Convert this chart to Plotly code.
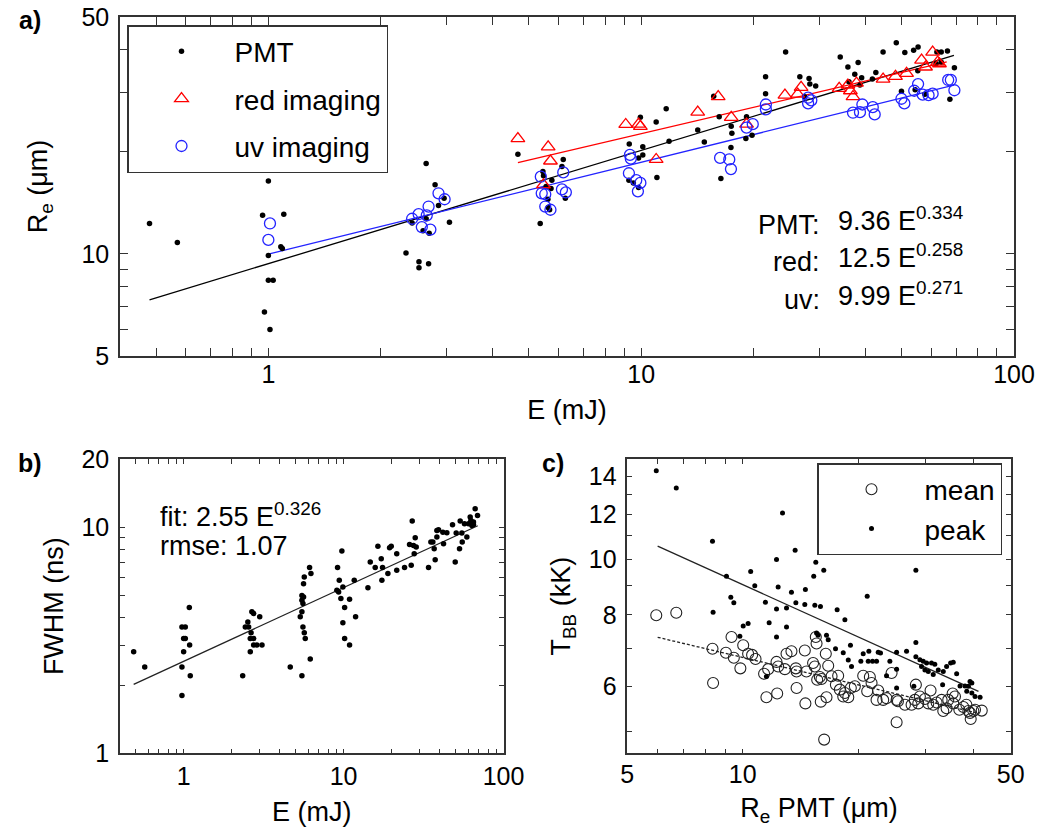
import numpy as np
import plotly.graph_objects as go

FONT = "Liberation Sans, Arial, Helvetica, sans-serif"
W, H = 1042, 836

# ---------------- panel a : R_e vs E ----------------
pmt_E = [0.48, 0.57, 1.00, 0.965, 1.10, 1.08, 1.09, 1.00, 1.00, 1.03, 0.976, 1.01,
         2.65, 2.80, 2.96, 2.86, 3.06, 2.43, 2.65, 2.60, 2.70, 2.34, 2.535, 2.535, 2.69,
         4.67, 5.45, 6.18, 6.13, 5.76, 5.56, 5.73, 5.62, 5.63, 5.68, 6.26, 5.36, 5.47,
         9.29, 9.95, 10.1, 9.84, 10.1, 9.27, 9.53, 9.84, 10.97, 11.67, 11.88, 11.02,
         14.18, 14.77, 15.65, 16.19, 17.44, 17.51, 17.41, 16.36, 19.17, 19.09, 19.83,
         21.56, 21.56, 24.4, 26.64, 28.2, 28.34, 29.38, 27.44,
         34.19, 35.85, 38.19, 37.4, 39.03, 36.07, 38.62, 41.7, 42.6, 44.55, 48.33, 50.95, 49.9,
         53.8, 55.3, 55.2, 54.3, 57.7, 62.1, 63.8, 66.3, 61.8, 63.8, 69.2, 67.3]
pmt_R = [12.3, 10.8, 16.4, 13.0, 13.1, 10.5, 10.38, 9.9, 8.37, 8.37, 6.74, 5.99,
         18.5, 16.0, 14.6, 13.9, 12.4, 12.35, 12.7, 11.7, 11.5, 10.06, 9.48, 9.1, 9.36,
         19.7, 17.5, 19.0, 18.1, 16.5, 15.8, 15.6, 14.5, 13.7, 13.5, 14.6, 12.3, 17.0,
         21.1, 25.3, 20.7, 19.2, 19.6, 16.5, 16.2, 15.7, 24.5, 26.8, 21.5, 16.8,
         23.2, 21.4, 29.2, 25.4, 23.8, 22.7, 20.6, 16.7, 25.4, 21.9, 22.4,
         33.3, 29.7, 39.4, 33.3, 32.9, 31.7, 31.3, 29.1,
         38.1, 35.6, 36.7, 33.9, 33.1, 32.2, 31.5, 32.8, 34.3, 39.4, 42.0, 39.3, 30.2,
         39.9, 40.8, 34.7, 30.5, 29.6, 39.4, 39.4, 39.7, 36.4, 36.8, 35.4, 28.6]

red_E = [4.67, 5.63, 5.71, 5.47, 9.09, 9.84, 9.95, 10.97, 14.18, 16.09, 17.44, 19.17,
         24.3, 26.29, 26.85, 33.97, 35.85, 37.0, 37.8, 36.4, 44.55, 48.1, 51.5,
         56.5, 57.9, 60.5, 62.4, 63.1]
red_R = [21.9, 20.7, 18.8, 16.0, 24.1, 24.15, 23.8, 19.0, 26.2, 29.1, 25.3, 24.15,
         29.4, 29.6, 31.0, 30.8, 31.5, 29.1, 31.9, 30.3, 32.8, 33.4, 34.1,
         37.3, 35.6, 39.4, 36.8, 36.4]

uv_E = [1.01, 1.00, 2.43, 2.53, 2.66, 2.69, 2.58, 2.72, 2.86, 2.97,
        5.38, 5.41, 5.53, 5.53, 5.71, 6.18, 6.13, 6.28,
        9.33, 9.38, 9.27, 9.70, 9.95, 9.80, 16.28, 17.23, 17.41, 19.17, 19.92,
        21.6, 21.6, 28.04, 28.04, 28.6, 37.0, 38.62, 39.2, 41.8, 42.3,
        49.9, 50.8, 54.0, 55.3, 56.9, 59.0, 60.5, 66.6, 67.7, 69.2]
uv_R = [12.3, 11.0, 12.7, 13.1, 13.0, 13.8, 12.0, 11.8, 15.1, 14.5,
        16.9, 15.1, 15.0, 13.8, 13.5, 17.4, 15.5, 15.2,
        19.6, 19.1, 17.3, 16.5, 16.2, 15.3, 19.2, 19.0, 17.8, 23.6, 24.15,
        27.6, 26.7, 28.9, 27.8, 28.4, 26.1, 26.2, 27.6, 27.1, 25.8,
        28.7, 27.8, 30.3, 31.7, 29.5, 29.4, 29.7, 32.6, 32.6, 30.4]

# power-law fits  (coefficient, exponent, E_min, E_max)
pmt_fit = (9.36, 0.334, 0.48, 69.0)
red_fit = (12.5, 0.258, 4.67, 66.0)
uv_fit = (9.99, 0.271, 1.0, 69.0)

# ---------------- panel b : FWHM vs E ----------------
fw_E = [0.487, 0.571, 0.976, 0.976, 1.0, 1.0, 0.976, 1.024, 1.024, 1.09, 1.10, 1.085,
        2.34, 2.43, 2.55, 2.52, 2.67, 2.64, 2.61, 2.74, 2.74, 2.87, 3.09, 2.61, 2.99, 2.74,
        4.64, 5.49, 5.36, 5.49, 5.57, 5.49, 5.62, 5.62, 5.68, 6.13, 6.25, 5.57, 5.68, 5.76, 6.19, 5.49,
        9.76, 9.17, 9.40, 9.08, 9.31, 9.90, 9.62, 10.15, 10.9, 11.66, 9.90, 10.15, 10.9, 11.89,
        14.2, 14.68, 15.77, 16.39, 17.2, 17.53, 17.36, 18.93, 19.39, 19.86, 21.5, 21.5,
        24.06, 25.85, 26.48, 26.87, 27.38, 28.05, 28.46, 27.65,
        33.98, 35.14, 36.16, 36.86, 37.4, 38.31, 38.31, 39.24, 41.77, 42.17, 44.24,
        48.0, 49.9, 50.6, 53.1, 53.6, 55.2, 54.9, 57.0, 59.0, 60.4, 61.9, 62.5, 64.9, 66.5, 68.8, 63.4, 64.9]
fw_F = [2.81, 2.41, 2.41, 1.80, 2.81, 3.22, 3.62, 3.62, 3.22, 3.01, 2.20, 4.41,
        2.20, 3.62, 3.62, 3.81, 4.22, 3.41, 3.22, 3.22, 3.01, 3.01, 3.01, 2.81, 4.01, 4.15,
        2.41, 2.20, 4.01, 4.22, 4.59, 4.99, 4.91, 5.62, 6.02, 6.62, 6.23, 3.62, 3.41, 3.22, 2.61, 4.75,
        7.84, 6.62, 5.82, 5.26, 5.17, 5.44, 4.83, 4.41, 4.80, 5.82, 3.78, 3.22, 3.01, 4.01,
        5.40, 7.01, 6.62, 8.22, 7.25, 6.62, 5.82, 6.23, 8.11, 8.22, 7.63, 6.44,
        6.62, 8.38, 6.78, 10.63, 8.30, 8.97, 8.16, 7.63,
        6.62, 8.59, 8.59, 8.02, 7.18, 9.03, 9.67, 9.73, 9.50, 8.44, 9.44,
        10.24, 7.01, 9.41, 8.02, 10.63, 8.59, 9.41, 10.34, 9.03, 10.34, 11.07, 10.70, 10.52, 12.05, 11.26, 10.17, 10.27]
fw_fit = (2.55, 0.326, 0.487, 69.0)

# ---------------- panel c : T_BB vs R_e ----------------
peak_R = [5.95, 6.71, 12.70, 8.34, 13.70, 12.25, 15.51, 16.27, 10.49, 9.07, 15.32, 10.75,
          12.37, 14.57, 13.40, 9.31, 9.48, 11.46, 13.76, 14.52, 15.42, 15.95, 13.01, 12.25,
          17.63, 8.37, 18.47, 11.72, 10.33, 10.03, 13.01, 21.12, 28.29, 9.83, 12.25, 15.58,
          15.72, 16.54, 16.71, 28.29, 17.46, 19.10, 18.29, 20.62, 21.33, 22.56, 22.88, 25.2,
          26.75, 24.2, 21.25, 21.81, 22.34, 18.85, 19.22, 20.33, 25.2, 23.72, 25.2, 28.29,
          28.98, 29.57, 30.17, 31.08, 31.7, 29.27, 29.87, 30.48, 31.4, 32.36, 33.35, 34.02,
          34.85, 35.41, 36.14, 33.22, 36.88, 38.0, 38.78, 39.16, 39.6, 38.4, 39.6, 40.35,
          41.6, 27.95, 11.53]
peak_T = [14.3, 13.35, 12.07, 10.77, 10.38, 10.0, 9.89, 9.58, 9.53, 9.35, 9.35, 9.0,
          8.95, 8.86, 8.77, 8.59, 8.40, 8.42, 8.40, 8.34, 8.32, 8.28, 8.23, 8.19,
          8.17, 8.09, 7.85, 7.75, 7.73, 7.65, 7.62, 8.63, 9.58, 7.34, 7.32, 7.44,
          7.37, 7.37, 7.24, 7.16, 6.98, 7.08, 6.87, 6.84, 6.91, 6.88, 6.86, 6.88,
          6.91, 6.64, 6.64, 6.64, 6.64, 6.67, 6.50, 6.64, 6.43, 6.26, 5.96, 6.76,
          6.68, 6.64, 6.59, 6.59, 6.56, 6.50, 6.41, 6.37, 6.29, 6.41, 6.37, 6.50,
          6.59, 6.61, 6.31, 6.04, 6.01, 6.01, 6.0, 6.12, 6.08, 5.88, 5.84, 5.76,
          5.74, 6.0, 6.24]

mean_R = [5.95, 6.71, 8.34, 8.37, 9.04, 9.35, 9.48, 9.86, 10.03, 10.33, 10.58, 10.80,
          11.37, 11.53, 11.65, 12.25, 12.37, 12.30, 12.88, 13.01, 13.40, 13.76, 13.82, 13.82,
          14.52, 14.57, 14.66, 15.26, 15.42, 15.51, 15.58, 15.64, 15.89, 16.05, 15.98, 16.54,
          16.31, 16.47, 16.71, 17.05, 17.50, 17.74, 17.92, 18.29, 18.47, 18.85, 19.14, 19.61,
          20.62, 21.46, 21.12, 21.68, 22.56, 22.34, 23.25, 23.72, 24.45, 25.2, 25.4, 25.2,
          26.49, 27.57, 28.29, 28.12, 28.98, 28.70, 29.87, 30.48, 30.90, 31.4, 32.04, 33.02,
          33.35, 34.02, 34.36, 35.28, 35.78, 35.41, 36.73, 37.62, 38.31, 38.78, 39.16, 39.32,
          39.95, 40.35, 42.02]
mean_T = [7.99, 8.07, 6.98, 6.08, 6.87, 7.32, 6.73, 6.45, 7.08, 6.84, 6.81, 6.70,
          6.31, 5.74, 6.43, 6.62, 6.50, 5.83, 6.43, 6.84, 6.91, 6.45, 6.37, 5.96,
          6.93, 5.60, 6.37, 6.59, 6.50, 7.32, 7.13, 6.16, 6.23, 6.18, 5.64, 5.74,
          4.84, 6.84, 6.52, 6.25, 6.04, 6.26, 5.92, 5.76, 5.84, 5.74, 5.96, 6.0,
          6.26, 6.23, 5.88, 6.08, 5.90, 5.68, 5.68, 5.72, 6.33, 5.68, 5.65, 5.19,
          5.57, 5.57, 6.04, 5.68, 5.76, 5.60, 5.70, 5.60, 5.90, 5.57, 5.62, 5.68,
          5.43, 5.49, 5.68, 5.83, 5.76, 5.60, 5.46, 5.52, 5.57, 5.43, 5.39, 5.26,
          5.43, 5.46, 5.44]

peak_fit = (18.2, -0.304, 6.0, 41.2)
mean_fit = (9.72, -0.159, 6.0, 41.2)

# ---------------- ticks (major = labelled, minor = unlabelled) ----------------
E_major = [1, 10, 100]
E_minor = [0.5, 0.6, 0.7, 0.8, 0.9, 2, 3, 4, 5, 6, 7, 8, 9, 20, 30, 40, 50, 60, 70, 80, 90]
Ra_major = [5, 10, 50]
Ra_minor = [6, 7, 8, 9, 20, 30, 40]
F_major = [1, 10, 20]
F_minor = [2, 3, 4, 5, 6, 7, 8, 9]
Rc_major = [5, 10, 50]
Rc_minor = [6, 7, 8, 9, 20, 30, 40]
T_major = [6, 8, 10, 12, 14]
T_minor = [5, 7, 9, 11, 13]


def fit_line(p):
    a, b, lo, hi = p
    x = np.geomspace(lo, hi, 50)
    return x, a * x ** b


RED = "rgb(255,0,0)"
BLUE = "rgb(35,35,255)"
BLK = "black"

fig = go.Figure()

# panel a
x, y = fit_line(pmt_fit)
fig.add_trace(go.Scatter(x=x, y=y, mode="lines", line=dict(color=BLK, width=1.3),
                         showlegend=False, xaxis="x", yaxis="y", hoverinfo="skip"))
x, y = fit_line(red_fit)
fig.add_trace(go.Scatter(x=x, y=y, mode="lines", line=dict(color=RED, width=1.3),
                         showlegend=False, xaxis="x", yaxis="y", hoverinfo="skip"))
x, y = fit_line(uv_fit)
fig.add_trace(go.Scatter(x=x, y=y, mode="lines", line=dict(color=BLUE, width=1.3),
                         showlegend=False, xaxis="x", yaxis="y", hoverinfo="skip"))
fig.add_trace(go.Scatter(x=pmt_E, y=pmt_R, mode="markers", name="PMT", legendgroup="pmt",
                         marker=dict(symbol="circle", size=5.5, color=BLK),
                         xaxis="x", yaxis="y", legend="legend"))
fig.add_trace(go.Scatter(x=red_E, y=red_R, mode="markers", name="red imaging", legendgroup="red",
                         marker=dict(symbol="triangle-up-open", size=12, color=RED, line=dict(width=1.3)),
                         xaxis="x", yaxis="y", legend="legend"))
fig.add_trace(go.Scatter(x=uv_E, y=uv_R, mode="markers", name="uv imaging", legendgroup="uv",
                         marker=dict(symbol="circle-open", size=11, color=BLUE, line=dict(width=1.3)),
                         xaxis="x", yaxis="y", legend="legend"))

# panel b
x, y = fit_line(fw_fit)
fig.add_trace(go.Scatter(x=x, y=y, mode="lines", line=dict(color="#222", width=1.3),
                         showlegend=False, xaxis="x2", yaxis="y2", hoverinfo="skip"))
fig.add_trace(go.Scatter(x=fw_E, y=fw_F, mode="markers", showlegend=False,
                         marker=dict(symbol="circle", size=5.5, color=BLK),
                         xaxis="x2", yaxis="y2"))

# panel c
x, y = fit_line(peak_fit)
fig.add_trace(go.Scatter(x=x, y=y, mode="lines", line=dict(color="#222", width=1.3),
                         showlegend=False, xaxis="x3", yaxis="y3", hoverinfo="skip"))
x, y = fit_line(mean_fit)
fig.add_trace(go.Scatter(x=x, y=y, mode="lines", line=dict(color="#222", width=1.3, dash="3px,2px"),
                         showlegend=False, xaxis="x3", yaxis="y3", hoverinfo="skip"))
fig.add_trace(go.Scatter(x=mean_R, y=mean_T, mode="markers", name="mean",
                         marker=dict(symbol="circle-open", size=11, color="#222", line=dict(width=1.1)),
                         xaxis="x3", yaxis="y3", legend="legend2"))
fig.add_trace(go.Scatter(x=peak_R, y=peak_T, mode="markers", name="peak",
                         marker=dict(symbol="circle", size=5, color=BLK),
                         xaxis="x3", yaxis="y3", legend="legend2"))

AX = "#333"


def axis(domain, rng, major, minor, ticklen, title=None, anchor=None, standoff=None, lblshift=0):
    d = dict(domain=domain, type="log", range=rng, showline=True, linecolor=AX, linewidth=1.5,
             mirror="ticks", ticks="inside", ticklen=ticklen, tickwidth=1.2, tickcolor=AX,
             tickmode="array", tickvals=major, ticktext=["%g" % v for v in major],
             minor=dict(tickmode="array", tickvals=minor, ticks="inside", ticklen=ticklen,
                        tickwidth=1.2, tickcolor=AX, showgrid=False),
             showgrid=False, zeroline=False,
             automargin=False, ticklabelstandoff=lblshift,
             tickfont=dict(family=FONT, size=25, color="black"), anchor=anchor)
    if title is not None:
        d["title"] = dict(text=title, font=dict(family=FONT, size=27, color="black"))
        if standoff is not None:
            d["title"]["standoff"] = standoff
    return d


l10 = np.log10
fig.update_layout(
    template="none",
    width=W, height=H, autosize=False, margin=dict(l=0, r=0, t=0, b=0, pad=0),
    paper_bgcolor="white", plot_bgcolor="white",
    font=dict(family=FONT, color="black"),
    xaxis=axis([120 / W, 1014 / W], [l10(0.4), 2], E_major, E_minor, 8, "E (mJ)", "y", 13, -5),
    yaxis=axis([1 - 356 / H, 1 - 17 / H], [l10(5), l10(50)], Ra_major, Ra_minor, 8,
               "R<sub>e</sub> (\u03bcm)", "x", 26, 4),
    xaxis2=axis([120 / W, 503.5 / W], [l10(0.4), 2], E_major, E_minor, 5, "E (mJ)", "y2", 13),
    yaxis2=axis([1 - 753.3 / H, 1 - 459 / H], [0, l10(20)], F_major, F_minor, 5,
                "FWHM (ns)", "x2", 10, 4),
    xaxis3=axis([627.3 / W, 1010.7 / W], [l10(5), l10(50)], Rc_major, Rc_minor, 5,
                "R<sub>e</sub> PMT (\u03bcm)", "y3", 11, -2),
    yaxis3=axis([1 - 753.3 / H, 1 - 459 / H], [l10(4.58), l10(15)], T_major, T_minor, 5,
                "T<sub>BB</sub> (kK)", "x3", 10, 4),
    legend=dict(x=127 / W, y=1 - 25 / H, xanchor="left", yanchor="top",
                bgcolor="white", bordercolor=AX, borderwidth=1.5,
                font=dict(family=FONT, size=28, color="black"), tracegroupgap=8, itemwidth=96),
    legend2=dict(x=817 / W, y=1 - 463 / H, xanchor="left", yanchor="top",
                 bgcolor="white", bordercolor=AX, borderwidth=1.5,
                 font=dict(family=FONT, size=28, color="black"), itemwidth=96),
)

ann_font = dict(family=FONT, size=27, color="black")
rows = [("PMT:", "9.36 E<sup>0.334</sup>", 225), ("red:", "12.5 E<sup>0.258</sup>", 262),
        ("uv:", "9.99 E<sup>0.271</sup>", 300)]
for lab, val, yc in rows:
    fig.add_annotation(x=822 / W, y=1 - yc / H, xref="paper", yref="paper", text=lab,
                       showarrow=False, xanchor="right", yanchor="middle", font=ann_font)
    fig.add_annotation(x=836 / W, y=1 - (yc - 6) / H, xref="paper", yref="paper", text=val,
                       showarrow=False, xanchor="left", yanchor="middle", font=ann_font)

fig.add_annotation(x=158 / W, y=1 - 515 / H, xref="paper", yref="paper",
                   text="fit: 2.55 E<sup>0.326</sup>", showarrow=False, xanchor="left",
                   yanchor="middle", font=ann_font)
fig.add_annotation(x=158 / W, y=1 - 546 / H, xref="paper", yref="paper",
                   text="rmse: 1.07", showarrow=False, xanchor="left",
                   yanchor="middle", font=ann_font)

lab_font = dict(family=FONT, size=25, color="black")
for t, xp, yp in [("<b>a)</b>", 30, 20), ("<b>b)</b>", 30, 463), ("<b>c)</b>", 553, 463)]:
    fig.add_annotation(x=xp / W, y=1 - yp / H, xref="paper", yref="paper", text=t,
                       showarrow=False, xanchor="center", yanchor="middle", font=lab_font)

fig.write_html("out.html")
